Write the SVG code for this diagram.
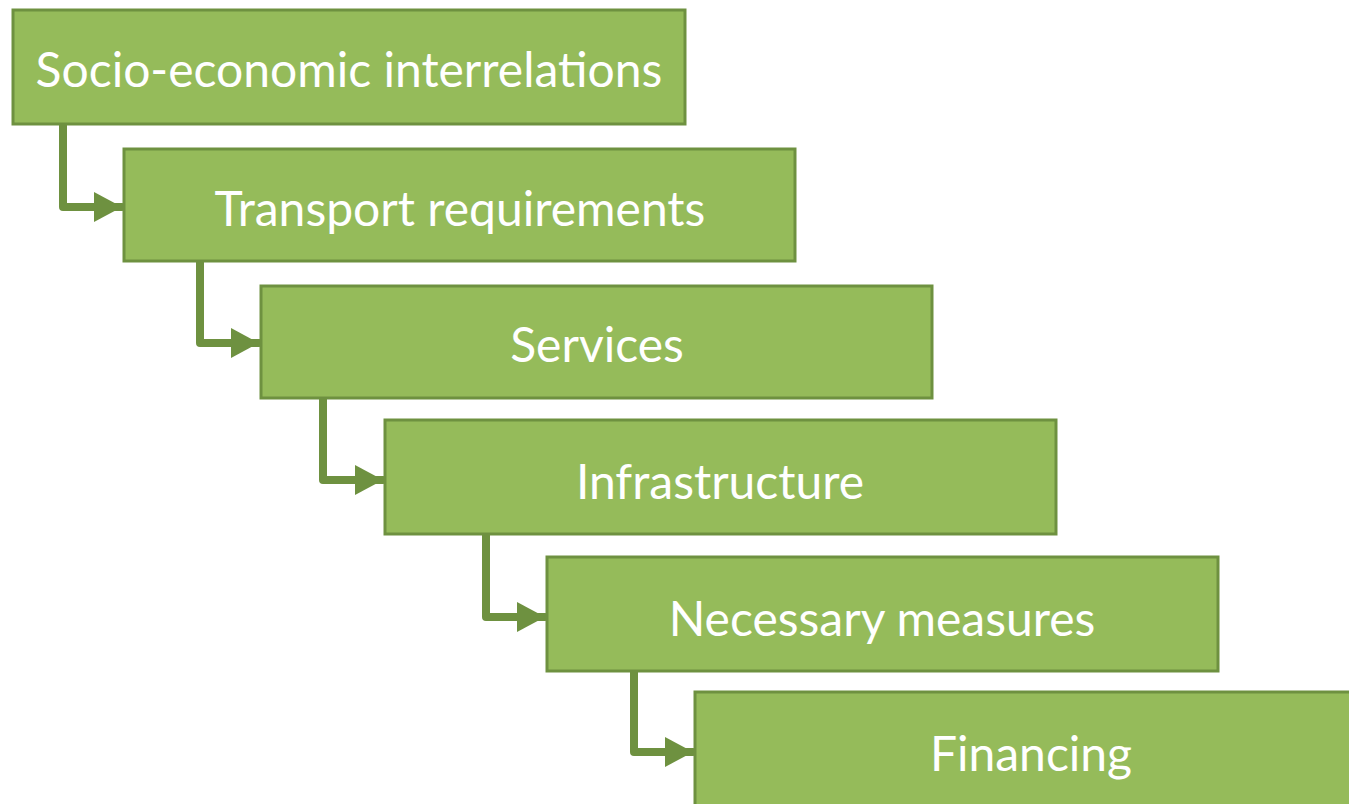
<svg xmlns="http://www.w3.org/2000/svg" width="1349" height="804" viewBox="0 0 1349 804">
<defs>
<style>
.box{fill:#95BB5A;stroke:#6E9140;stroke-width:3}
.lbl{fill:#ffffff;font-family:Lato,"Open Sans","Liberation Sans",sans-serif;font-size:48px;text-anchor:middle;dominant-baseline:central}
.con{fill:none;stroke:#6E9140;stroke-width:8;stroke-linejoin:round;stroke-linecap:round}
</style>
<marker id="ah" markerUnits="userSpaceOnUse" markerWidth="30" markerHeight="32" refX="28" refY="16" orient="auto">
<path d="M0,1 L28,16 L0,31 Z" fill="#6E9140"/>
</marker>
</defs>
<rect width="1349" height="804" fill="#ffffff"/>
<g id="connectors">
<path class="con" d="M63,124 V207 H122" marker-end="url(#ah)"/>
<path class="con" d="M200,261 V343 H259" marker-end="url(#ah)"/>
<path class="con" d="M323,398 V480 H383" marker-end="url(#ah)"/>
<path class="con" d="M486,534 V617 H545" marker-end="url(#ah)"/>
<path class="con" d="M634,671 V752 H693" marker-end="url(#ah)"/>
</g>
<g id="n1"><rect class="box" x="13" y="10" width="672" height="114"/><text class="lbl" x="349" y="68">Socio-economic interrelations</text></g>
<g id="n2"><rect class="box" x="124" y="149" width="671" height="112"/><text class="lbl" x="460" y="207">Transport requirements</text></g>
<g id="n3"><rect class="box" x="261" y="286" width="671" height="112"/><text class="lbl" x="597" y="343">Services</text></g>
<g id="n4"><rect class="box" x="385" y="420" width="671" height="114"/><text class="lbl" x="720" y="480">Infrastructure</text></g>
<g id="n5"><rect class="box" x="547" y="557" width="671" height="114"/><text class="lbl" x="882" y="617">Necessary measures</text></g>
<g id="n6"><rect class="box" x="695" y="692" width="671" height="120"/><text class="lbl" x="1031" y="752">Financing</text></g>
</svg>
